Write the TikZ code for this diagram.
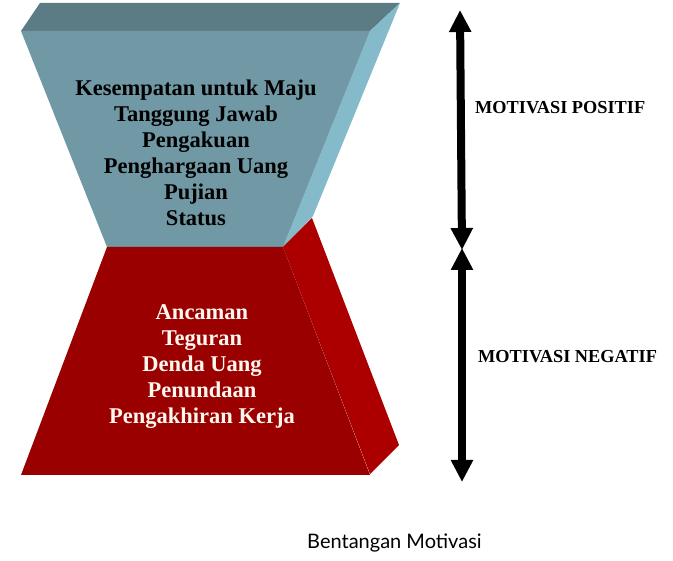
\documentclass[tikz,border=0pt]{standalone}
\usepackage{fontspec}
\setmainfont{Liberation Serif}
\newfontfamily\capfont{Lato}
\usetikzlibrary{arrows.meta}
\definecolor{bluetop}{HTML}{5C7C85}
\definecolor{bluefront}{HTML}{7098A5}
\definecolor{blueside}{HTML}{85BACA}
\definecolor{redfront}{HTML}{9A0000}
\definecolor{redside}{HTML}{AC0000}
\definecolor{cream}{HTML}{FFF8F0}
\tikzset{
  facetop/.style={fill=bluetop, draw=none},
  facefront/.style={fill=bluefront, draw=none},
  faceside/.style={fill=blueside, draw=none},
  redfrontface/.style={fill=redfront, draw=none},
  redsideface/.style={fill=redside, draw=none},
  bodytext/.style={align=center, font=\fontsize{22.5}{26}\selectfont\bfseries, inner sep=0pt},
  sidelabel/.style={anchor=west, font=\fontsize{18.3}{20}\selectfont\bfseries, inner sep=0pt},
  bigarrow/.style={line width=8pt, {Triangle[width=21pt,length=22pt]}-{Triangle[width=21pt,length=22pt]}}
}
\begin{document}
\begin{tikzpicture}[x=1pt,y=-1pt]
\useasboundingbox (0,0) rectangle (673,561);
% blue (top) block
\fill[facetop] (21,31) -- (40,3) -- (400,3) -- (370,31) -- cycle;
\fill[faceside] (370,31) -- (400,3) -- (313,216) -- (283,247) -- cycle;
\fill[facefront] (21,31) -- (370,31) -- (283,247) -- (107,247) -- cycle;
% red (bottom) block
\fill[redsideface] (283,247) -- (312,218) -- (399,445) -- (370,474) -- cycle;
\fill[redfrontface] (107,247) -- (283,247) -- (370,475) -- (21,475) -- cycle;
% texts
\node[bodytext, text=black] (pos) at (196,153) {Kesempatan untuk Maju\\Tanggung Jawab\\Pengakuan\\Penghargaan Uang\\Pujian\\Status};
\node[bodytext, text=cream] (neg) at (202,367) {Ancaman\\Teguran\\Denda Uang\\Penundaan\\Pengakhiran Kerja};
% arrows
\coordinate (a1) at (460,10);
\coordinate (a2) at (462,250);
\coordinate (b1) at (462,248);
\coordinate (b2) at (462,482);
\draw[bigarrow] (a2) -- (a1);
\draw[bigarrow] (b2) -- (b1);
\node[sidelabel] (lp) at (475,108) {MOTIVASI POSITIF};
\node[sidelabel] (ln) at (478,357) {MOTIVASI NEGATIF};
\node[anchor=west, inner sep=0pt, font=\capfont\fontsize{20}{22}\selectfont] (cap) at (307,543) {Bentangan Motivasi};
\end{tikzpicture}
\end{document}
